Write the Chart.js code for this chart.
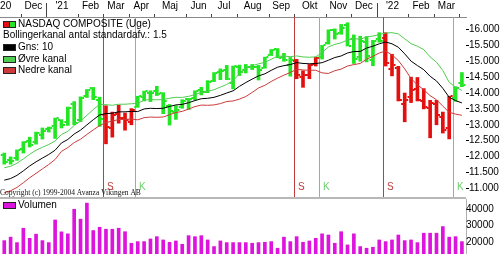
<!DOCTYPE html>
<html lang="da">
<head>
<meta charset="utf-8">
<title>NASDAQ COMPOSITE (Uge)</title>
<script src="https://cdn.jsdelivr.net/npm/chart.js@4/dist/chart.umd.min.js"></script>
<style>
  html, body { margin: 0; padding: 0; background: #fff; }
  #wrap { position: relative; width: 500px; height: 254px; overflow: hidden; }
  #price-chart { position: absolute; left: 0; top: 0; }
  #divider { position: absolute; left: 0; top: 197px; width: 466px; height: 2px; background: #b8b8b8; }
  #volume-chart { position: absolute; left: 0; top: 199px; }
</style>
</head>
<body>
<div id="wrap">
  <canvas id="price-chart" width="500" height="197"></canvas>
  <div id="divider"></div>
  <canvas id="volume-chart" width="500" height="55"></canvas>
</div>
<script>
// one bar per week, keyed by the monday of the week
const weeks = [
  '2020-11-09', '2020-11-16', '2020-11-23', '2020-11-30',
  '2020-12-07', '2020-12-14', '2020-12-21', '2020-12-28',
  '2021-01-04', '2021-01-11', '2021-01-18', '2021-01-25',
  '2021-02-01', '2021-02-08', '2021-02-15', '2021-02-22',
  '2021-03-01', '2021-03-08', '2021-03-15', '2021-03-22', '2021-03-29',
  '2021-04-05', '2021-04-12', '2021-04-19', '2021-04-26',
  '2021-05-03', '2021-05-10', '2021-05-17', '2021-05-24', '2021-05-31',
  '2021-06-07', '2021-06-14', '2021-06-21', '2021-06-28',
  '2021-07-05', '2021-07-12', '2021-07-19', '2021-07-26',
  '2021-08-02', '2021-08-09', '2021-08-16', '2021-08-23', '2021-08-30',
  '2021-09-06', '2021-09-13', '2021-09-20', '2021-09-27',
  '2021-10-04', '2021-10-11', '2021-10-18', '2021-10-25',
  '2021-11-01', '2021-11-08', '2021-11-15', '2021-11-22', '2021-11-29',
  '2021-12-06', '2021-12-13', '2021-12-20', '2021-12-27',
  '2022-01-03', '2022-01-10', '2022-01-17', '2022-01-24', '2022-01-31',
  '2022-02-07', '2022-02-14', '2022-02-21', '2022-02-28',
  '2022-03-07', '2022-03-14', '2022-03-21', '2022-03-28'
];

const open = [
  12050, 11880, 11950, 12250, 12480, 12450, 12680, 12870, 12960, 13150,
  13090, 13640, 13150, 13920, 14170, 13780, 13300, 12900, 13350, 13200,
  13080, 13570, 13880, 14000, 14050, 14000, 13600, 13390, 13550, 13800,
  13850, 14100, 14040, 14390, 14660, 14740, 14330, 14810, 14710, 14830,
  14820, 14800, 15200, 15400, 15130, 14870, 15000, 14520, 14570, 14900,
  15120, 15560, 16000, 15900, 16150, 15700, 15130, 15600, 15050, 15700,
  15730, 14760, 14800, 13660, 13860, 14120, 13760, 13540, 13650, 13240,
  12900, 13840, 14300
];
const high = [
  12110, 11990, 12210, 12470, 12610, 12770, 12900, 12930, 13210, 13160,
  13560, 13730, 13880, 14110, 14175, 13870, 13600, 13400, 13620, 13370,
  13510, 13900, 14060, 14070, 14211, 14010, 13640, 13600, 13790, 13830,
  14070, 14180, 14390, 14645, 14760, 14870, 14850, 14880, 14900, 14900,
  14870, 15130, 15370, 15400, 15250, 15120, 15060, 14700, 14900, 15130,
  15500, 15990, 16020, 16160, 16212, 15830, 15790, 15780, 15660, 15900,
  15900, 15220, 14840, 14000, 14500, 14490, 14140, 13770, 13770, 13400,
  13900, 14200, 14646
];
const low = [
  11760, 11760, 11880, 12110, 12300, 12390, 12550, 12770, 12570, 12900,
  12980, 13000, 13100, 13860, 13790, 12950, 12400, 12610, 13050, 12830,
  13000, 13550, 13750, 13730, 13920, 13350, 12990, 13170, 13520, 13480,
  13780, 13940, 14010, 14360, 14420, 14420, 14130, 14550, 14630, 14740,
  14410, 14780, 15180, 15110, 15000, 14530, 14450, 14180, 14450, 14850,
  15070, 15540, 15700, 15850, 15480, 14930, 15000, 14980, 14860, 15600,
  14850, 14540, 13750, 13094, 13700, 13750, 13500, 12590, 13000, 12740,
  12555, 13740, 14200
];
const close = [
  11829, 11855, 12206, 12464, 12377, 12755, 12804, 12888, 13202, 12998,
  13543, 13070, 13856, 14095, 13874, 13192, 12920, 13319, 13215, 13139,
  13480, 13900, 14052, 14016, 13962, 13752, 13429, 13471, 13748, 13814,
  14069, 14030, 14360, 14639, 14701, 14427, 14837, 14673, 14835, 14823,
  14715, 15130, 15364, 15115, 15044, 15048, 14567, 14580, 14897, 15090,
  15498, 15971, 15860, 16057, 15491, 15085, 15630, 15169, 15653, 15645,
  14936, 14893, 13768, 13771, 14098, 13791, 13548, 13694, 13313, 12843,
  13894, 14169, 14261
];

// Gns: 10 and the two Bollinger lines
const avg10 = [
  11256, 11307, 11407, 11549, 11704, 11834, 11951, 12065, 12199, 12428,
  12538, 12709, 12831, 12996, 13159, 13309, 13352, 13364, 13407, 13408,
  13422, 13416, 13499, 13519, 13511, 13520, 13576, 13626, 13642, 13695,
  13762, 13821, 13834, 13865, 13927, 14001, 14069, 14210, 14330, 14439,
  14539, 14604, 14714, 14814, 14862, 14896, 14958, 14931, 14922, 14928,
  14955, 15033, 15117, 15167, 15261, 15306, 15310, 15416, 15475, 15550,
  15606, 15550, 15442, 15233, 15004, 14865, 14735, 14527, 14380, 14146,
  13866, 13761, 13689
];
const upperBand = [
  11646, 11692, 11787, 11924, 12074, 12199, 12291, 12380, 12489, 12693,
  12793, 12979, 13116, 13296, 13479, 13644, 13632, 13614, 13647, 13648,
  13662, 13676, 13774, 13794, 13786, 13795, 13836, 13866, 13862, 13895,
  13952, 14021, 14054, 14105, 14187, 14269, 14389, 14610, 14771, 14859,
  14919, 14966, 15064, 15159, 15162, 15146, 15168, 15136, 15127, 15138,
  15275, 15450, 15532, 15580, 15672, 15716, 15690, 15766, 15795, 15840,
  15889, 15900, 15862, 15706, 15554, 15475, 15365, 15137, 14970, 14706,
  14336, 14186, 14079
];
const lowerBand = [
  10866, 10922, 11027, 11174, 11334, 11469, 11611, 11750, 11909, 12163,
  12283, 12439, 12546, 12696, 12839, 12974, 13072, 13114, 13167, 13168,
  13182, 13156, 13224, 13244, 13236, 13245, 13316, 13386, 13422, 13495,
  13572, 13621, 13614, 13625, 13667, 13733, 13749, 13810, 13889, 14019,
  14159, 14242, 14364, 14469, 14562, 14646, 14748, 14726, 14717, 14718,
  14635, 14616, 14702, 14754, 14850, 14896, 14930, 15066, 15155, 15260,
  15323, 15200, 15022, 14760, 14454, 14255, 14105, 13917, 13790, 13586,
  13396, 13336, 13299
];

const volume = [
  20800, 22900, 19600, 28300, 22200, 24700, 20800, 19600, 33300, 26100,
  24900, 39800, 33800, 43500, 26900, 28900, 27700, 27700, 28300, 26200,
  19200, 20200, 20200, 21800, 23200, 21200, 19800, 20600, 18600, 23800,
  23200, 23800, 21200, 17200, 20600, 19600, 19600, 19600, 19600, 19200,
  19600, 19800, 20200, 16200, 22900, 20200, 23200, 19800, 20600, 22200,
  24900, 24200, 19200, 26200, 18200, 24900, 17200, 16200, 16800, 21200,
  20200, 21200, 24200, 20800, 21200, 19600, 25300, 25300, 25300, 29300,
  22900, 23200, 20200
];

// sell (S) / buy (K) signals
const signalWeeks = ['2021-03-01', '2021-04-05', '2021-09-27', '2021-10-25', '2022-01-03', '2022-03-21'];
const signalTypes = ['S', 'K', 'S', 'K', 'S', 'K'];

const monthStarts = [
  '2020-11-01', '2020-12-01', '2021-01-01', '2021-02-01', '2021-03-01', '2021-04-01',
  '2021-05-01', '2021-06-01', '2021-07-01', '2021-08-01', '2021-09-01', '2021-10-01',
  '2021-11-01', '2021-12-01', '2022-01-01', '2022-02-01', '2022-03-01', '2022-04-01'
];
const monthLabels = ["'20", 'Dec', "'21", 'Feb', 'Mar', 'Apr', 'Maj', 'Jun', 'Jul', 'Aug', 'Sep', 'Okt',
  'Nov', 'Dec', "'22", 'Feb', 'Mar'];

const priceTicks = [11000, 11500, 12000, 12500, 13000, 13500, 14000, 14500, 15000, 15500, 16000];
const volumeTicks = [20000, 30000, 40000];

const BUY_BAR = '#22e622';
const SELL_BAR = '#e41010';
const BUY_LINE = '#6ccf6c';
const SELL_LINE = '#c23c3c';
const FONT = '10px "Liberation Sans", Arial, sans-serif';

const X_MIN = -23.7;
const X_MAX = 489.5;

function dayNo(s) {
  return (Date.parse(s) - Date.parse('2020-12-01')) / 864e5;
}
// bars sit mid-week
function barDay(w) {
  return dayNo(w) + 3;
}
// month marks sit on the monday of the week holding the 1st
function monthTickDay(s) {
  const d = new Date(s + 'T00:00:00Z');
  return dayNo(s) - (d.getUTCDay() + 6) % 7;
}
function isSell(w) {
  let sell = false;
  signalWeeks.forEach((s, k) => {
    if (dayNo(s) <= dayNo(w)) sell = signalTypes[k] === 'S';
  });
  return sell;
}
const barColors = weeks.map(w => isSell(w) ? SELL_BAR : BUY_BAR);
const monthTickDays = monthStarts.map(monthTickDay);
// month names are written in the middle of their month
const monthMidDays = monthLabels.map((l, i) => (monthTickDays[i] + monthTickDays[i + 1]) / 2);

function drawSwatch(ctx, x, y, fills) {
  const w = 12, h = 6;
  const seg = w / fills.length;
  fills.forEach((c, k) => {
    ctx.fillStyle = c;
    ctx.fillRect(x + k * seg, y, seg, h);
  });
  ctx.strokeStyle = '#222';
  ctx.lineWidth = 1;
  ctx.strokeRect(x + 0.5, y + 0.5, w, h);
  for (let k = 1; k < fills.length; k++) {
    ctx.beginPath();
    ctx.moveTo(x + k * seg + 0.5, y);
    ctx.lineTo(x + k * seg + 0.5, y + h);
    ctx.stroke();
  }
}

// keep the axes from pushing the plot area inwards
function noPadding(s) {
  s.paddingLeft = 0;
  s.paddingRight = 0;
  s.paddingTop = 0;
  s.paddingBottom = 0;
}

Chart.defaults.font.family = '"Liberation Sans", Arial, sans-serif';
Chart.defaults.font.size = 10;
Chart.defaults.color = '#000';

const signalLines = {
  id: 'signalLines',
  beforeDatasetsDraw(chart) {
    const { ctx, chartArea: a, scales: { x } } = chart;
    ctx.save();
    ctx.lineWidth = 1;
    signalWeeks.forEach((w, k) => {
      const px = Math.round(x.getPixelForValue(dayNo(w))) + 0.5;
      ctx.strokeStyle = signalTypes[k] === 'S' ? SELL_LINE : BUY_LINE;
      ctx.beginPath();
      ctx.moveTo(px, a.top);
      ctx.lineTo(px, a.bottom);
      ctx.stroke();
    });
    ctx.restore();
  },
  afterDraw(chart) {
    const { ctx, scales: { x } } = chart;
    ctx.save();
    ctx.font = FONT;
    ctx.textBaseline = 'middle';
    signalWeeks.forEach((w, k) => {
      const px = Math.round(x.getPixelForValue(dayNo(w)));
      ctx.fillStyle = signalTypes[k] === 'S' ? SELL_LINE : BUY_LINE;
      ctx.fillText(signalTypes[k], px + 4, 187);
    });
    ctx.restore();
  }
};

// open tick left, close tick right
const ohlcTicks = {
  id: 'ohlcTicks',
  afterDatasetDraw(chart, args) {
    if (args.index !== 0) return;
    const { ctx, scales: { y } } = chart;
    ctx.save();
    args.meta.data.forEach((bar, i) => {
      const yo = Math.round(y.getPixelForValue(open[i]));
      const yc = Math.round(y.getPixelForValue(close[i]));
      ctx.fillStyle = barColors[i];
      ctx.fillRect(bar.x - 3.5, yo - 1, 2, 2);
      ctx.fillRect(bar.x + 1.5, yc - 1, 2, 2);
    });
    ctx.restore();
  }
};

const priceLegend = {
  id: 'priceLegend',
  afterDraw(chart) {
    const { ctx, scales: { x } } = chart;
    const ds = chart.data.datasets;
    ctx.save();
    // month boundary marks, taller where the year changes
    ctx.strokeStyle = '#444';
    ctx.lineWidth = 1;
    monthTickDays.forEach((d, i) => {
      const px = Math.round(x.getPixelForValue(d)) + 0.5;
      if (px < 0 || px > chart.chartArea.right) return;
      const yearMark = (monthLabels[i] || '').startsWith("'");
      ctx.beginPath();
      ctx.moveTo(px, yearMark ? 3 : 14);
      ctx.lineTo(px, 17);
      ctx.stroke();
    });

    const rows = [
      { text: ds[0].label, fills: [SELL_BAR, BUY_BAR] },
      { text: 'Bollingerkanal antal standardafv.: 1.5' },
      { text: ds[1].label, fills: [ds[1].borderColor] },
      { text: ds[2].label, fills: [ds[2].borderColor] },
      { text: ds[3].label, fills: [ds[3].borderColor] }
    ];
    ctx.font = FONT;
    ctx.textBaseline = 'middle';
    rows.forEach((r, k) => {
      const cy = 24 + k * 11.6;
      if (r.fills) {
        drawSwatch(ctx, 3, Math.round(cy) - 3, r.fills);
        ctx.fillStyle = '#000';
        ctx.fillText(r.text, 18, cy);
      } else {
        ctx.fillStyle = '#000';
        ctx.fillText(r.text, 3, cy);
      }
    });

    ctx.font = '7.5px "Liberation Serif", "Times New Roman", serif';
    ctx.fillStyle = '#111';
    ctx.fillText('Copyright (c) 1999-2004 Avanza Vikingen AB', 0, 193);
    ctx.restore();
  }
};

const ctxPrice = document.getElementById('price-chart');
const ctxVolume = document.getElementById('volume-chart');

new Chart(ctxPrice, {
  type: 'bar',
  data: {
    datasets: [{
      type: 'bar',
      label: 'NASDAQ COMPOSITE (Uge)',
      data: weeks.map((w, i) => ({ x: barDay(w), y: [low[i], high[i]] })),
      backgroundColor: barColors,
      barThickness: 3,
      order: 4
    },
    {
      type: 'line',
      label: 'Gns: 10',
      data: weeks.map((w, i) => ({ x: barDay(w), y: avg10[i] })),
      borderColor: '#000000',
      borderWidth: 1,
      pointRadius: 0,
      order: 1
    },
    {
      type: 'line',
      label: 'Øvre kanal',
      data: weeks.map((w, i) => ({ x: barDay(w), y: upperBand[i] })),
      borderColor: '#4fcc4f',
      borderWidth: 1,
      pointRadius: 0,
      order: 2
    },
    {
      type: 'line',
      label: 'Nedre kanal',
      data: weeks.map((w, i) => ({ x: barDay(w), y: lowerBand[i] })),
      borderColor: '#cc3a3a',
      borderWidth: 1,
      pointRadius: 0,
      order: 3
    }]
  },
  options: {
    responsive: false,
    animation: false,
    events: [],
    layout: { padding: 0, autoPadding: false },
    plugins: { legend: { display: false }, tooltip: { enabled: false } },
    scales: {
      x: {
        type: 'linear',
        position: 'top',
        min: X_MIN,
        max: X_MAX,
        bounds: 'data',
        offset: false,
        afterBuildTicks(s) {
          s.ticks = monthMidDays.map(d => ({ value: d }));
        },
        afterFit(s) {
          s.height = 17;
          noPadding(s);
        },
        // marks are drawn at the month boundaries by the plugin
        grid: { offset: false, drawOnChartArea: false, tickLength: 3, tickColor: 'rgba(0,0,0,0)' },
        border: { display: true, color: '#8a8a8a' },
        ticks: {
          autoSkip: false,
          maxRotation: 0,
          padding: 2,
          color: '#000',
          callback: (v, i) => monthLabels[i]
        }
      },
      y: {
        position: 'right',
        min: 10726,
        max: 16394,
        bounds: 'data',
        beginAtZero: false,
        afterBuildTicks(s) {
          s.ticks = priceTicks.map(v => ({ value: v }));
        },
        afterFit(s) {
          s.width = 34;
          noPadding(s);
        },
        grid: { drawOnChartArea: false, tickLength: 3, color: '#000' },
        border: { display: false },
        ticks: {
          padding: 0,
          color: '#000',
          callback: v => String(v).replace(/\B(?=(\d{3})+(?!\d))/g, '.')
        }
      }
    }
  },
  plugins: [signalLines, ohlcTicks, priceLegend]
});

const volumeLegend = {
  id: 'volumeLegend',
  afterDraw(chart) {
    const ctx = chart.ctx;
    ctx.save();
    drawSwatch(ctx, 3, 3, [chart.data.datasets[0].backgroundColor]);
    ctx.font = FONT;
    ctx.textBaseline = 'middle';
    ctx.fillStyle = '#000';
    ctx.fillText(chart.data.datasets[0].label, 18, 6.5);
    ctx.restore();
  }
};

new Chart(ctxVolume, {
  type: 'bar',
  data: {
    datasets: [{
      label: 'Volumen',
      data: weeks.map((w, i) => ({ x: barDay(w), y: volume[i] })),
      backgroundColor: '#dd14dd',
      barThickness: 3
    }]
  },
  options: {
    responsive: false,
    animation: false,
    events: [],
    layout: { padding: 0, autoPadding: false },
    plugins: { legend: { display: false }, tooltip: { enabled: false } },
    scales: {
      x: {
        type: 'linear',
        min: X_MIN,
        max: X_MAX,
        bounds: 'data',
        offset: false,
        display: false
      },
      y: {
        position: 'right',
        min: 12700,
        max: 46000,
        bounds: 'data',
        beginAtZero: false,
        afterBuildTicks(s) {
          s.ticks = volumeTicks.map(v => ({ value: v }));
        },
        afterFit(s) {
          s.width = 34;
          noPadding(s);
        },
        grid: { display: false, drawTicks: false },
        border: { display: true, color: '#b0b0b0' },
        ticks: { padding: 0, color: '#000', callback: v => String(v) }
      }
    }
  },
  plugins: [volumeLegend]
});
</script>
</body>
</html>
